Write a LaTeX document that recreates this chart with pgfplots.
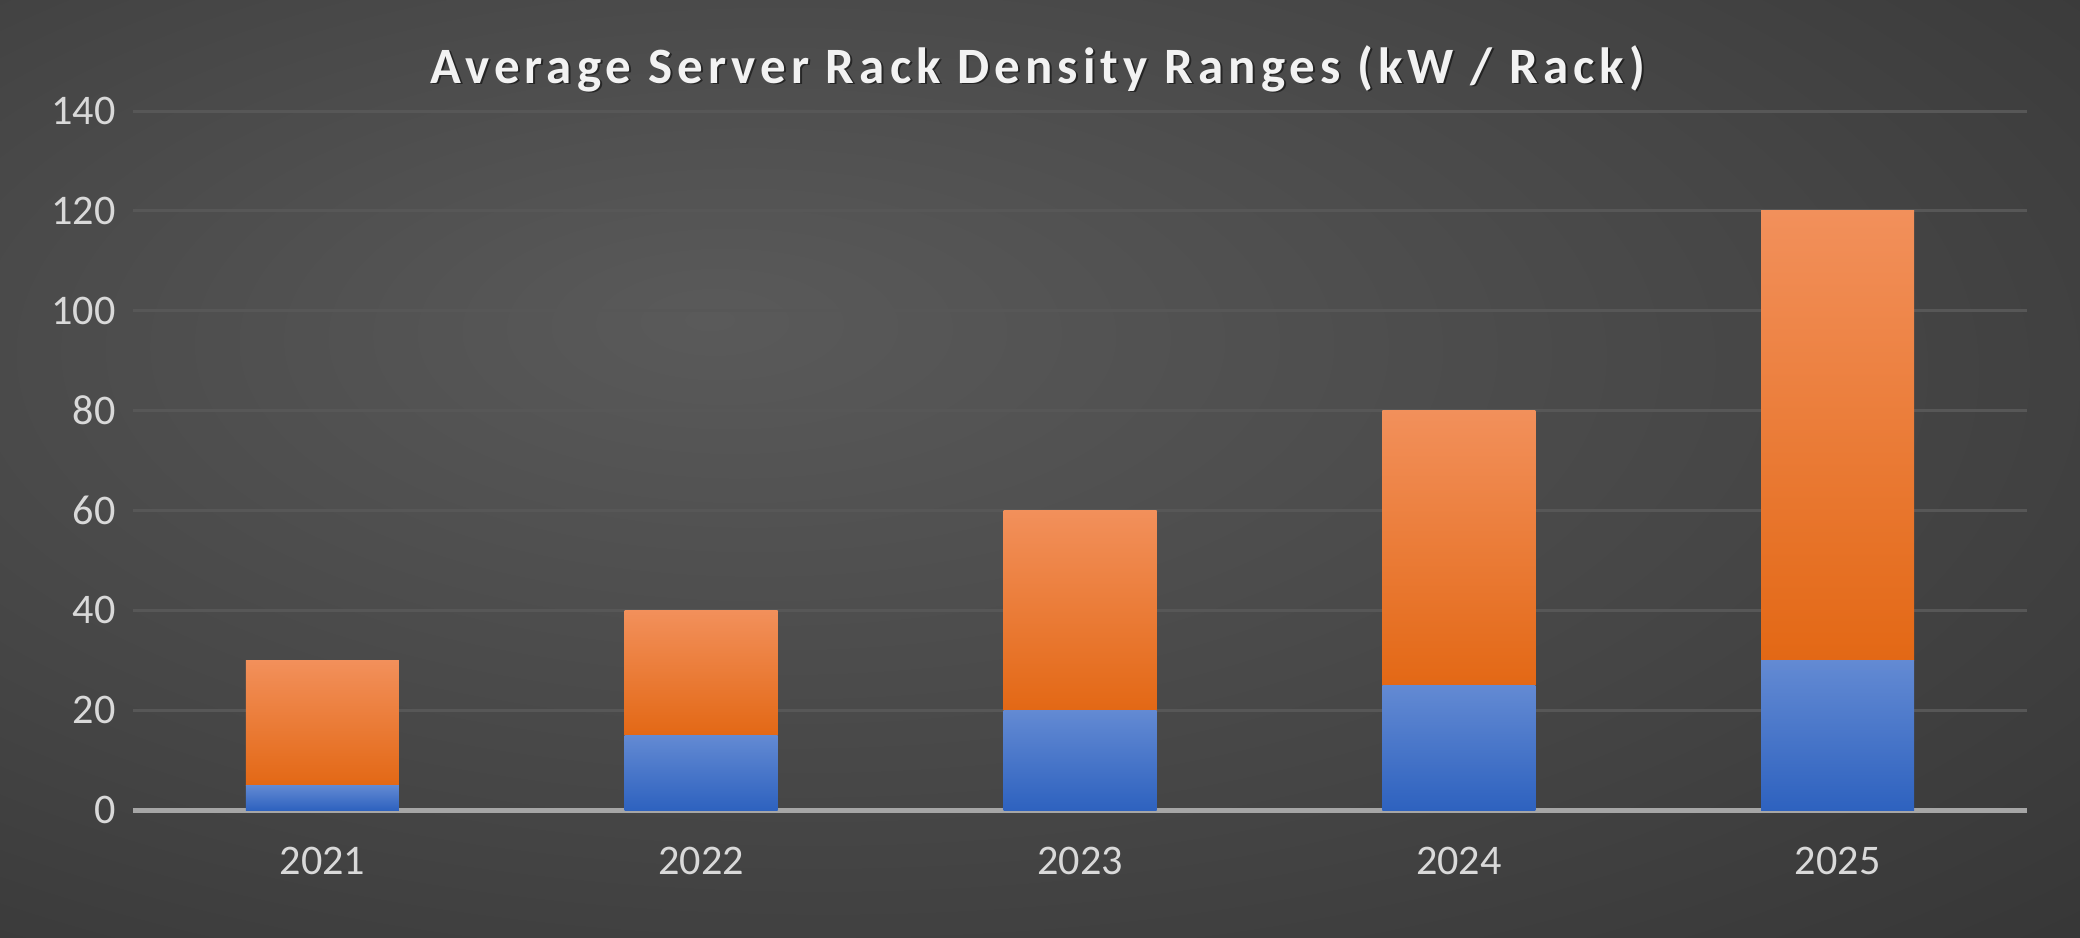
\documentclass[border=0pt]{standalone}
\usepackage{fontspec}
\setmainfont{Carlito}
\newfontfamily\titlefont[LetterSpace=10]{Carlito}
\usepackage{pgfplots}
\pgfplotsset{compat=1.18}

\definecolor{bgA}{HTML}{5A5A5A}
\definecolor{bgB}{HTML}{454545}
\definecolor{bgC}{HTML}{2A2A2A}
\definecolor{gridgray}{HTML}{575757}
\definecolor{axisgray}{HTML}{A6A6A6}
\definecolor{labelgray}{HTML}{D9D9D9}
\definecolor{orTop}{HTML}{F2905B}
\definecolor{orMid}{HTML}{F67E2C}
\definecolor{orBot}{HTML}{E36815}
\definecolor{blTop}{HTML}{638AD3}
\definecolor{blBot}{HTML}{2E62BF}

\pgfdeclareradialshading{bgshade}{\pgfpoint{-8bp}{8bp}}{%
  color(0bp)=(bgA); color(25bp)=(bgB); color(55bp)=(bgC); color(80bp)=(bgC)}

\pgfplotsset{
  frame/.style={
    at={(1.33cm,1.27cm)}, anchor=south west,
    scale only axis, width=18.94cm, height=6.99cm,
    ybar stacked, bar width=1.53cm,
    xmin=-0.5, xmax=4.5, ymin=0, ymax=140,
  },
  lower/.style={draw=none, top color=blTop, bottom color=blBot},
  upper/.style={draw=none, top color=orTop, middle color=orMid, bottom color=orBot},
}

% one axis per year, so that every bar gets its own gradient
\newcommand\yearbar[3]{%
  \begin{axis}[frame, hide axis]
    \addplot[lower] coordinates {(#1,#2)};
    \addplot[upper] coordinates {(#1,#3)};
  \end{axis}}

\begin{document}
\begin{tikzpicture}
  \shade[shading=bgshade] (0,0) rectangle (20.8,9.37);
  \node[anchor=base, text=black, opacity=0.5] at (10.40,8.525)
    {\fontsize{14.5}{17}\titlefont\bfseries Average Server Rack Density Ranges (kW / Rack)};
  \node[anchor=base, text=white!95!black] at (10.38,8.54)
    {\fontsize{14.5}{17}\titlefont\bfseries Average Server Rack Density Ranges (kW / Rack)};
  \begin{axis}[
    frame,
    ytick={0,20,...,140},
    xtick={0,1,2,3,4}, xticklabels={2021,2022,2023,2024,2025},
    axis x line*=bottom, axis y line*=left,
    y axis line style={draw=none},
    x axis line style={draw=axisgray, line width=0.5mm, -},
    tick style={draw=none},
    ymajorgrids, major grid style={draw=gridgray, line width=0.3mm},
    tick label style={font=\fontsize{12}{14}\selectfont, text=labelgray},
    xticklabel style={yshift=-0.25cm},
    yticklabel style={xshift=-0.05cm},
    /pgf/number format/assume math mode=true,
  ]
    \addplot[draw=none, fill=none] coordinates {(0,0)};
  \end{axis}
  % year index, lower end, span of the range (kW / rack)
  \yearbar{0}{5}{25}
  \yearbar{1}{15}{25}
  \yearbar{2}{20}{40}
  \yearbar{3}{25}{55}
  \yearbar{4}{30}{90}
\end{tikzpicture}
\end{document}
